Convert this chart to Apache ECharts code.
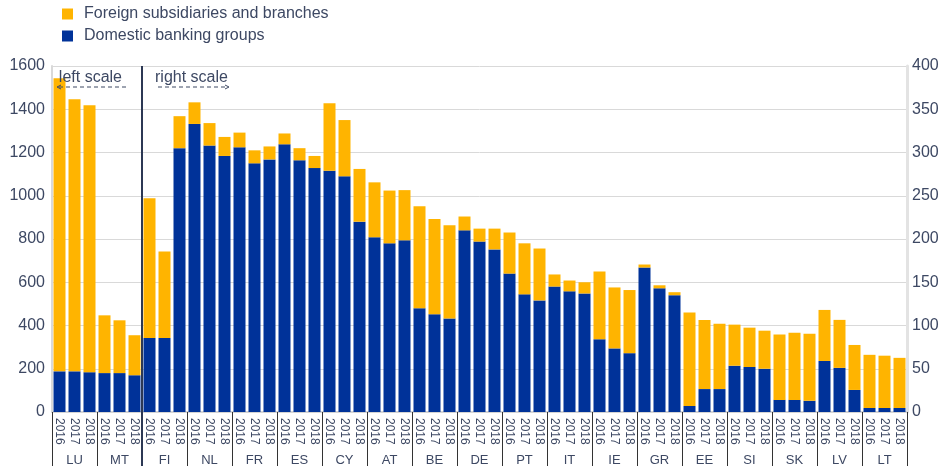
<!DOCTYPE html>
<html><head><meta charset="utf-8">
<script src="https://cdn.jsdelivr.net/npm/echarts@6/dist/echarts.min.js"></script>
<style>html,body{margin:0;padding:0;background:#fff}#c{width:946px;height:472px}</style>
</head><body><div id="c"></div>
<script>
const countries = ['LU','MT','FI','NL','FR','ES','CY','AT','BE','DE','PT','IT','IE','GR','EE','SI','SK','LV','LT'];
const years = ['2016','2017','2018'];
const leftScaleCount = 2; // LU, MT on left scale
const domestic = [
  188,188,184, 180,180,170,
  85.5,85.5,305, 333,308,296, 306,287.5,292, 309.5,291,282,
  279,272.5,220, 202,195,198.5, 120,113,108, 210,197,188,
  160,136,129, 145,139.5,137, 84,73.5,68, 167,143,135,
  7,26.5,26.5, 53.5,52,50, 14,14,13, 59,51,25.5, 4.6,4.6,4.6
];
const foreign = [
  1355,1258,1234, 267,244,185,
  161.5,100,37, 25,26,22, 17,15,15, 12.5,14,14,
  78,65,61, 63.5,61,58, 118,110,108, 16,15,24,
  47.5,59,60, 14,12.5,13, 78.5,70.5,73, 3.5,3.5,3.5,
  108,80,75.5, 47.5,45.5,44, 75.5,77.5,77.5, 59,55.5,52, 61.5,60.5,58
];
const leftTicks = [0,200,400,600,800,1000,1200,1400,1600];
const rightTicks = [0,50,100,150,200,250,300,350,400];

const FONT = 'Arial, "Liberation Sans", sans-serif';
const TXT = '#3d4863';
const C_FOR = '#FFB400', C_DOM = '#003299';
const NAME_F = 'Foreign subsidiaries and branches';
const NAME_D = 'Domestic banking groups';

const cats = [];
countries.forEach(c => years.forEach(y => cats.push(c + ' ' + y)));
const nLeft = leftScaleCount * 3;
const pick = (arr, left) => arr.map((v, i) => ((i < nLeft) === left ? v : '-'));

const chart = echarts.init(document.getElementById('c'), null, {renderer: 'canvas'});
const barCommon = {type: 'bar', barWidth: 12, barGap: '-100%', animation: false};
chart.setOption({
  animation: false,
  textStyle: {fontFamily: FONT},
  grid: {left: 52, right: 39, top: 66, bottom: 60},
  legend: {
    data: [NAME_F, NAME_D], orient: 'vertical', left: 57, top: 1,
    itemWidth: 11, itemHeight: 11, itemGap: 6, icon: 'rect',
    textStyle: {fontSize: 16, color: TXT, fontFamily: FONT, padding: [0, 0, 0, 6]}
  },
  xAxis: [
    {type: 'category', data: cats, position: 'bottom',
     axisLine: {show: true, lineStyle: {color: '#d4d4d4', width: 2}},
     axisTick: {show: false},
     axisLabel: {interval: 0, rotate: -90, fontSize: 12, color: TXT, margin: 6,
       formatter: v => v.split(' ')[1]}},
    {type: 'category', data: countries, position: 'bottom',
     axisLine: {show: false},
     axisTick: {show: true, interval: 0, length: 54, lineStyle: {color: '#333', width: 1}},
     axisLabel: {interval: 0, fontSize: 13, color: TXT, margin: 42}}
  ],
  yAxis: [
    {type: 'value', min: leftTicks[0], max: leftTicks[leftTicks.length - 1], interval: 200,
     axisLine: {show: true, lineStyle: {color: '#d9d9d9', width: 2}},
     axisTick: {show: false},
     splitLine: {lineStyle: {color: '#d9d9d9'}},
     axisLabel: {fontSize: 16, color: TXT, margin: 7, formatter: v => String(v)}},
    {type: 'value', min: rightTicks[0], max: rightTicks[rightTicks.length - 1], interval: 50,
     position: 'right',
     axisLine: {show: true, lineStyle: {color: '#e3e3e3', width: 3}},
     axisTick: {show: false},
     splitLine: {show: false},
     axisLabel: {fontSize: 16, color: TXT, margin: 5, formatter: v => String(v)}}
  ],
  series: [
    Object.assign({name: NAME_D, stack: 'L', yAxisIndex: 0, data: pick(domestic, true), itemStyle: {color: C_DOM}}, barCommon),
    Object.assign({name: NAME_F, stack: 'L', yAxisIndex: 0, data: pick(foreign, true), itemStyle: {color: C_FOR}}, barCommon),
    Object.assign({name: NAME_D, stack: 'R', yAxisIndex: 1, data: pick(domestic, false), itemStyle: {color: C_DOM}}, barCommon),
    Object.assign({name: NAME_F, stack: 'R', yAxisIndex: 1, data: pick(foreign, false), itemStyle: {color: C_FOR}}, barCommon)
  ]
});

// scale separator and annotations, positioned from the axis
const xa = chart.convertToPixel({xAxisIndex: 0}, nLeft - 1);
const xb = chart.convertToPixel({xAxisIndex: 0}, nLeft);
const xs = Math.round((xa + xb) / 2);
const yTop = chart.convertToPixel({yAxisIndex: 0}, leftTicks[leftTicks.length - 1]);
const yBot = chart.convertToPixel({yAxisIndex: 0}, 0);
const ann = '#3d4863';
const dash = {stroke: ann, lineWidth: 1, lineDash: [4, 3]};
chart.setOption({
  graphic: [
    {type: 'line', shape: {x1: xs, y1: yTop, x2: xs, y2: yBot + 54}, style: {stroke: '#2c3854', lineWidth: 2}, z: 100},
    {type: 'text', x: xs - 20, y: yTop + 12, style: {text: 'left scale', fill: ann, font: '16px ' + FONT, align: 'right', verticalAlign: 'middle'}, z: 100},
    {type: 'line', shape: {x1: xs - 83, y1: yTop + 21, x2: xs - 16, y2: yTop + 21}, style: dash, z: 100},
    {type: 'polyline', shape: {points: [[xs - 81, yTop + 19], [xs - 85, yTop + 21], [xs - 81, yTop + 23]]}, style: {stroke: ann, lineWidth: 1, fill: null}, z: 100},
    {type: 'text', x: xs + 13, y: yTop + 12, style: {text: 'right scale', fill: ann, font: '16px ' + FONT, align: 'left', verticalAlign: 'middle'}, z: 100},
    {type: 'line', shape: {x1: xs + 16, y1: yTop + 21, x2: xs + 85, y2: yTop + 21}, style: dash, z: 100},
    {type: 'polyline', shape: {points: [[xs + 83, yTop + 19], [xs + 87, yTop + 21], [xs + 83, yTop + 23]]}, style: {stroke: ann, lineWidth: 1, fill: null}, z: 100}
  ]
});
</script>
</body></html>
